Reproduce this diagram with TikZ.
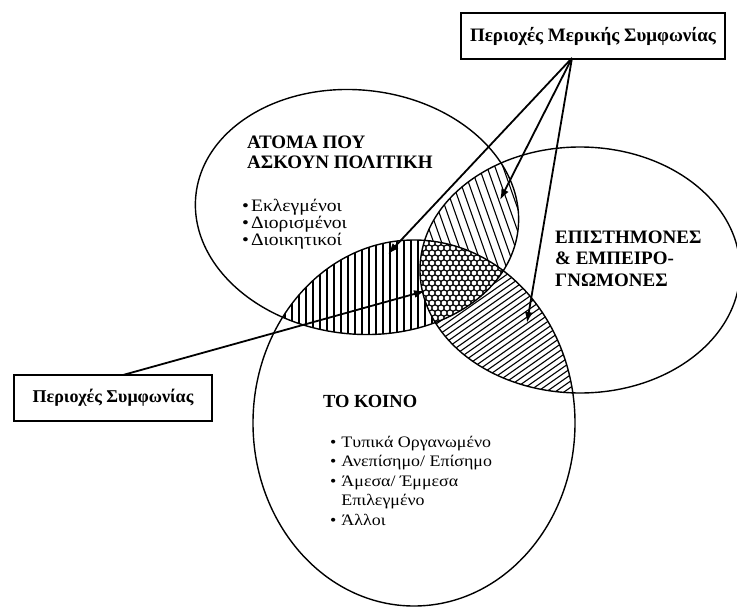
\documentclass[tikz,border=0pt]{standalone}
\usepackage{fontspec}
\setmainfont{Liberation Serif}
\newfontfamily\listfont[FakeStretch=1.12]{Liberation Serif}
\usetikzlibrary{arrows.meta}
\begin{document}
\begin{tikzpicture}[x=1pt,y=-1pt,
  elA/.style={rotate around={-6:(357,212)}},
  outline/.style={line width=1.4pt},
  hatch/.style={line width=1.1pt},
  callout/.style={draw,line width=1.5pt,inner sep=0pt,minimum height=46pt},
  pointer/.style={line width=1.8pt,-{Latex[length=11pt,width=8pt]}}]
\useasboundingbox (0,0) rectangle (737,608);
\fill[white] (0,0) rectangle (737,608);

% A intersect C : vertical lines
\begin{scope}
  \clip[elA] (357,212) ellipse [x radius=162,y radius=122];
  \clip (414,423) ellipse [x radius=161,y radius=183];
  \foreach \x in {250,257,...,560} \draw[hatch] (\x,200) -- (\x,360);
\end{scope}
% A intersect B : steep lines
\begin{scope}
  \clip[elA] (357,212) ellipse [x radius=162,y radius=122];
  \clip (580,270) ellipse [x radius=160,y radius=123];
  \foreach \x in {330,338,...,560} \draw[hatch] (\x,130) -- ++(60,170);
\end{scope}
% B intersect C : shallow diagonal lines
\begin{scope}
  \clip (580,270) ellipse [x radius=160,y radius=123];
  \clip (414,423) ellipse [x radius=161,y radius=183];
  \foreach \x in {200,209,...,700} \draw[hatch] (\x,420) -- ++(300,-210);
\end{scope}
% A intersect B intersect C : scales
\begin{scope}
  \clip[elA] (357,212) ellipse [x radius=162,y radius=122];
  \clip (580,270) ellipse [x radius=160,y radius=123];
  \clip (414,423) ellipse [x radius=161,y radius=183];
  \fill[white] (380,200) rectangle (540,360);
  \foreach \y [count=\k] in {218,223,...,340} {
    \pgfmathsetmacro\off{mod(\k,2)*3}
    \foreach \x in {396,402,...,510} \draw[line width=0.8pt] (\x+\off,\y) circle [radius=3];
  }
\end{scope}

% ellipses
\draw[outline,elA] (357,212) ellipse [x radius=162,y radius=122];
\draw[outline] (580,270) ellipse [x radius=160,y radius=123];
\draw[outline] (414,423) ellipse [x radius=161,y radius=183];

% texts
\node[anchor=base west,align=left,inner sep=0pt,font=\bfseries\fontsize{19}{20}\selectfont] (tA) at (247,168) {ΑΤΟΜΑ ΠΟΥ\\ΑΣΚΟΥΝ ΠΟΛΙΤΙΚΗ};
\node[anchor=base west,inner sep=0pt,font=\listfont\fontsize{17.5}{17}\selectfont] (lA) at (242,211)
  {\begin{tabular}[t]{@{}l@{\hspace{2pt}}l@{}}\textbullet & Εκλεγμένοι\\ \textbullet & Διορισμένοι\\ \textbullet & Διοικητικοί\end{tabular}};
\node[anchor=base west,align=left,inner sep=0pt,font=\bfseries\fontsize{19}{21.5}\selectfont] (tB) at (555,286) {ΕΠΙΣΤΗΜΟΝΕΣ\\\&~ΕΜΠΕΙΡΟ-\\ΓΝΩΜΟΝΕΣ};
\node[anchor=base west,inner sep=0pt,font=\bfseries\fontsize{18.5}{20}\selectfont] (tC) at (323,407) {ΤΟ ΚΟΙΝΟ};
\node[anchor=base west,inner sep=0pt,font=\listfont\fontsize{16}{19.5}\selectfont] (lC) at (330,447)
  {\begin{tabular}[t]{@{}l@{\hspace{5pt}}l@{}}\textbullet & Τυπικά Οργανωμένο\\ \textbullet & Ανεπίσημο/ Επίσημο\\ \textbullet & Άμεσα/ Έμμεσα\\ & Επιλεγμένο\\ \textbullet & Άλλοι\end{tabular}};

% callout boxes
\node[callout,minimum width=264pt,font=\bfseries\fontsize{19}{20}\selectfont] (pm) at (593,36) {Περιοχές Μερικής Συμφωνίας};
\node[callout,minimum width=198pt,font=\bfseries\fontsize{18}{20}\selectfont] (ps) at (113,398) {Περιοχές Συμφωνίας};

% pointers
\coordinate (pmo) at (572,58);
\coordinate (pso) at (123,375);
\coordinate (tAC) at (388,254);
\coordinate (tAB) at (500,200);
\coordinate (tBC) at (527,323);
\coordinate (tABC) at (425,291);
\draw[pointer] (pmo) -- (tAC);
\draw[pointer] (pmo) -- (tAB);
\draw[pointer] (pmo) -- (tBC);
\draw[pointer] (pso) -- (tABC);
\end{tikzpicture}
\end{document}
